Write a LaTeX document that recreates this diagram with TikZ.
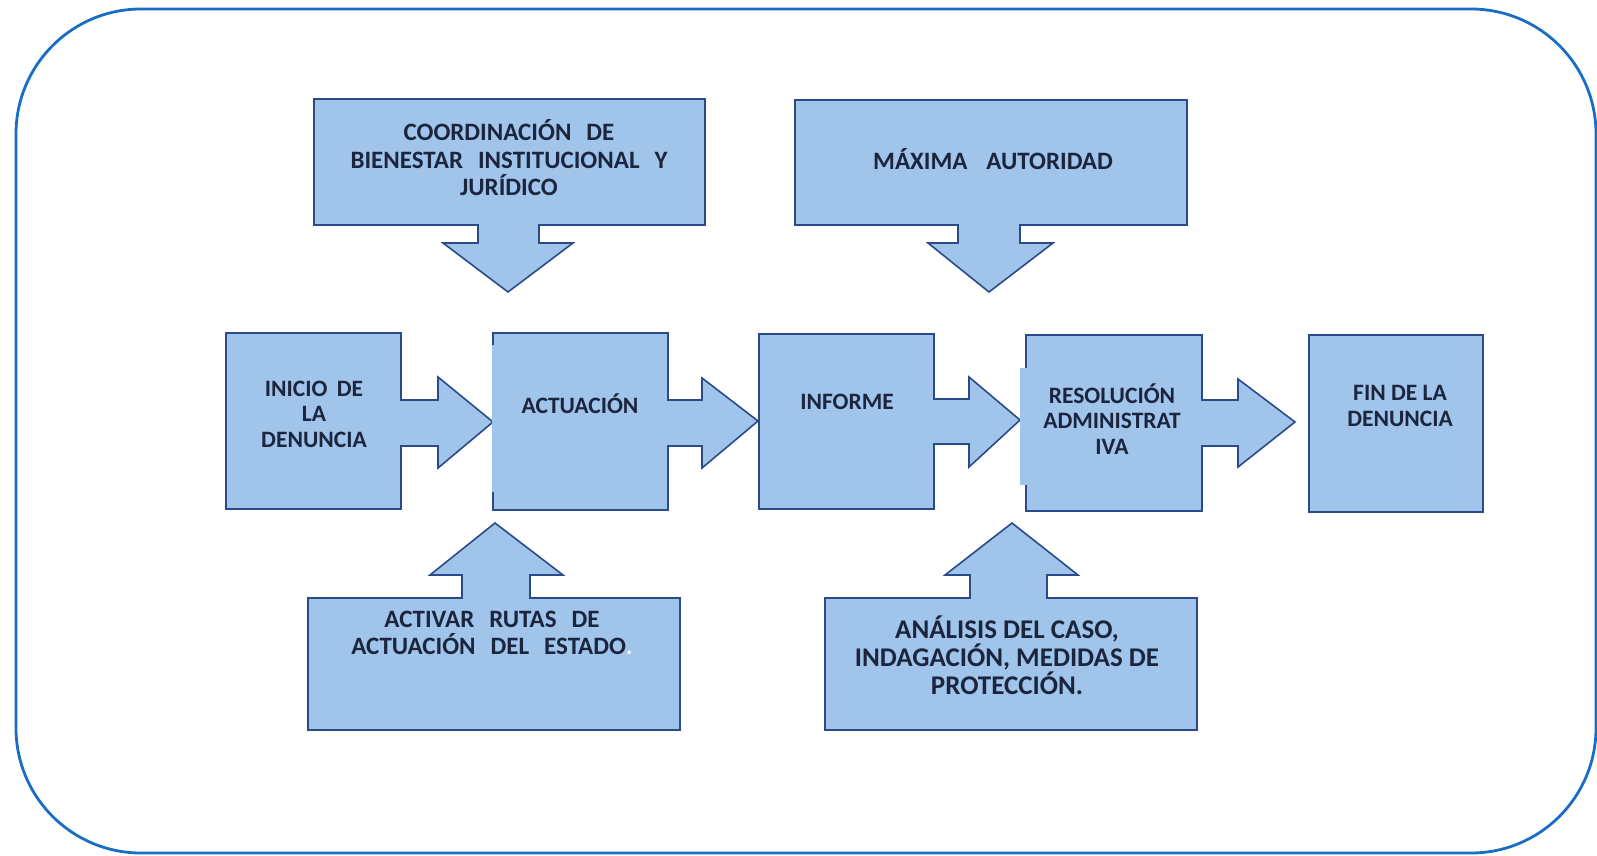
\documentclass[tikz,border=0pt]{standalone}
\usepackage{fontspec}
\setmainfont{Carlito}
\definecolor{boxfill}{HTML}{A0C4EA}
\definecolor{boxline}{HTML}{2A4A8A}
\definecolor{framecol}{HTML}{186EC4}
\definecolor{txtcol}{HTML}{1B253D}
\newcommand{\wsp}{\hspace{0.6em}}
\tikzset{
  shapebox/.style={fill=boxfill, draw=boxline, line width=1.6pt, line join=miter},
  patchbox/.style={fill=boxfill, draw=none},
  lbl/.style={font=\bfseries\fontsize{25}{27.5}\selectfont, text=txtcol, align=center, inner sep=0pt},
  lblmid/.style={lbl, font=\bfseries\fontsize{23.5}{25.5}\selectfont},
  lblbig/.style={lbl, font=\bfseries\fontsize{27}{28}\selectfont},
}
\begin{document}
\begin{tikzpicture}[x=1pt,y=-1pt]
\useasboundingbox (0,0) rectangle (1597,855);
% outer frame
\draw[framecol, line width=2.8pt, rounded corners=125pt] (16,9) -- (1596,9) -- (1596,853) -- (16,853) -- cycle;

% top callouts (down arrows)
\draw[shapebox] (314,99) -- (705,99) -- (705,225) -- (539,225) -- (539,243) -- (573,243) -- (508,292) -- (443,243) -- (478,243) -- (478,225) -- (314,225) -- cycle;
\draw[shapebox] (795,100) -- (1187,100) -- (1187,225) -- (1020,225) -- (1020,243) -- (1053,243) -- (989,292) -- (928,243) -- (958,243) -- (958,225) -- (795,225) -- cycle;

% bottom callouts (up arrows)
\draw[shapebox] (308,598) -- (462,598) -- (462,575) -- (430,575) -- (495,523) -- (563,575) -- (530,575) -- (530,598) -- (680,598) -- (680,730) -- (308,730) -- cycle;
\draw[shapebox] (825,598) -- (970,598) -- (970,575) -- (945,575) -- (1012,523) -- (1078,575) -- (1047,575) -- (1047,598) -- (1197,598) -- (1197,730) -- (825,730) -- cycle;

% middle row (right arrows)
\draw[shapebox] (226,333) -- (401,333) -- (401,400) -- (438,400) -- (438,377) -- (493,422) -- (438,468) -- (438,446) -- (401,446) -- (401,509) -- (226,509) -- cycle;
\draw[shapebox] (493,333) -- (668,333) -- (668,400) -- (702,400) -- (702,378) -- (758,421) -- (702,468) -- (702,446) -- (668,446) -- (668,510) -- (493,510) -- cycle;
\fill[patchbox] (492,345) rectangle (540,492);
\draw[shapebox] (759,334) -- (934,334) -- (934,399) -- (969,399) -- (969,377) -- (1020,420) -- (969,467) -- (969,444) -- (934,444) -- (934,509) -- (759,509) -- cycle;
\draw[shapebox] (1026,335) -- (1202,335) -- (1202,400) -- (1238,400) -- (1238,379) -- (1295,422) -- (1238,467) -- (1238,446) -- (1202,446) -- (1202,511) -- (1026,511) -- cycle;
\fill[patchbox] (1020,368) rectangle (1100,485);
\draw[shapebox] (1309,335) rectangle (1483,512);

% labels
\node[lbl] (coord) at (509,158) {COORDINACIÓN\wsp DE\\BIENESTAR\wsp INSTITUCIONAL\wsp Y\\JURÍDICO};
\node[lbl] (maxima) at (993,159) {MÁXIMA\hspace{0.75em}AUTORIDAD};
\node[lblmid] (inicio) at (314,414) {INICIO\hspace{0.4em}DE\\LA\\DENUNCIA};
\node[lblmid] (actuacion) at (580,404) {ACTUACIÓN};
\node[lblmid] (informe) at (847,402) {INFORME};
\node[lblmid] (resolucion) at (1112,419) {RESOLUCIÓN\\ADMINISTRAT\\IVA};
\node[lblmid] (fin) at (1400,406) {FIN DE LA\\DENUNCIA};
\node[lbl] (activar) at (492,633) {ACTIVAR\wsp RUTAS\wsp DE\\ACTUACIÓN\wsp DEL\wsp ESTADO\textcolor{white}{.}};
\node[lblbig] (analisis) at (1007,655) {ANÁLISIS DEL CASO,\\INDAGACIÓN, MEDIDAS DE\\PROTECCIÓN.};
\end{tikzpicture}
\end{document}
